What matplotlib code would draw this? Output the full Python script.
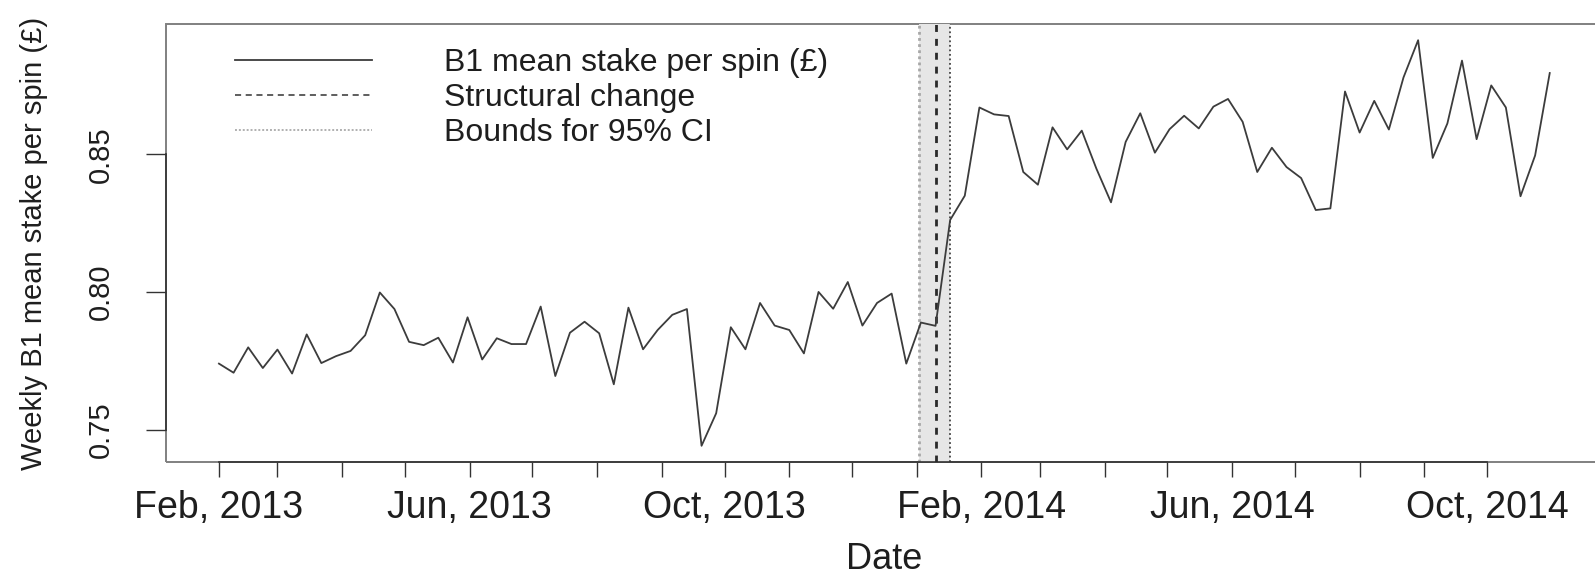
import numpy as np
import pandas as pd
import matplotlib
matplotlib.use('Agg')
import matplotlib.pyplot as plt
import matplotlib.dates as mdates
from matplotlib.patches import Rectangle

plt.rcParams['font.family'] = ['Liberation Sans', 'DejaVu Sans']

# weekly B1 mean stake per spin, starting 1 Feb 2013
start_date = '2013-02-01'
stake = [
    0.7741, 0.7708, 0.7800, 0.7725, 0.7792, 0.7705, 0.7847, 0.7743, 0.7768, 0.7787,
    0.7844, 0.7999, 0.7939, 0.7820, 0.7808, 0.7835, 0.7745, 0.7909, 0.7756, 0.7833,
    0.7812, 0.7812, 0.7948, 0.7696, 0.7853, 0.7893, 0.7851, 0.7666, 0.7944, 0.7793,
    0.7863, 0.7918, 0.7939, 0.7443, 0.7561, 0.7873, 0.7793, 0.7961, 0.7879, 0.7863,
    0.7778, 0.8001, 0.7940, 0.8037, 0.7879, 0.7961, 0.7995, 0.7741, 0.7890, 0.7878,
    0.8262, 0.8350, 0.8670, 0.8645, 0.8639, 0.8436, 0.8390, 0.8598, 0.8518, 0.8586,
    0.8448, 0.8326, 0.8545, 0.8649, 0.8506, 0.8591, 0.8640, 0.8594, 0.8673, 0.8701,
    0.8618, 0.8436, 0.8524, 0.8454, 0.8414, 0.8298, 0.8304, 0.8728, 0.8579, 0.8694,
    0.8590, 0.8779, 0.8914, 0.8487, 0.8612, 0.8840, 0.8555, 0.8750, 0.8670, 0.8348,
    0.8496, 0.8795,
]
dates = pd.date_range(start_date, periods=len(stake), freq='7D')

break_date = pd.Timestamp('2014-01-10')
ci_low = pd.Timestamp('2014-01-02')
ci_high = pd.Timestamp('2014-01-17')

month_ticks = pd.date_range('2013-02-01', '2014-10-01', freq='MS')
label_months = [2, 6, 10]
y_ticks = [0.75, 0.80, 0.85]

line_col = '#3c3c3c'
text_col = '#1e1e1e'

fig = plt.figure(figsize=(15.95, 5.75), dpi=100)
ax = fig.add_axes([0.1039, 0.1965, 0.9011, 0.7618])

# confidence band for the break date
ax.axvspan(ci_low, ci_high, color='#e6e6e6', lw=0, zorder=1)
ax.axvline(ci_low, color='#a8a8a8', ls=(0, (1, 1.2)), lw=2.0, zorder=2)
ax.axvline(ci_high, color='#444444', ls=(0, (1, 1.5)), lw=1.3, zorder=2)
ax.axvline(break_date, color='#2a2a2a', ls=(0, (2.5, 2.5)), lw=2.0, zorder=3)

ax.plot(dates, stake, color=line_col, lw=1.3, zorder=4)

# legend entries
ax.plot([], [], color=line_col, lw=1.3, label='B1 mean stake per spin (£)')
ax.plot([], [], color='#333333', ls=(0, (4, 3)), lw=1.1, label='Structural change')
ax.plot([], [], color='#b0b0b0', ls=(0, (1, 1)), lw=1.4, label='Bounds for 95% CI')
ax.legend(loc='upper left', bbox_to_anchor=(0.048, 0.945),
          frameon=False, fontsize=23, handlelength=4.3, handletextpad=2.25,
          labelspacing=0.16, borderpad=0, borderaxespad=0, labelcolor=text_col)

pad = (dates[-1] - dates[0]) * 0.04
ax.set_xlim(dates[0] - pad, dates[-1] + pad)
span = max(stake) - min(stake)
ax.set_ylim(min(stake) - 0.04 * span, max(stake) + 0.04 * span)

ax.set_xticks(month_ticks)
ax.set_xticklabels([d.strftime('%b, %Y') if d.month in label_months else ''
                    for d in month_ticks])
ax.set_yticks(y_ticks)
ax.set_yticklabels(['%.2f' % v for v in y_ticks], rotation=90, va='center')

ax.tick_params(axis='x', direction='out', length=10.8, width=1.0,
               colors='#333333', labelsize=27, labelcolor=text_col, pad=9)
ax.tick_params(axis='y', direction='out', length=14.4, width=1.0,
               colors='#333333', labelsize=21, labelcolor=text_col, pad=22)

for side in ['top', 'right']:
    ax.spines[side].set_visible(False)
ax.spines['bottom'].set_bounds(mdates.date2num(month_ticks[0]),
                               mdates.date2num(month_ticks[-1]))
ax.spines['left'].set_bounds(y_ticks[0], y_ticks[-1])
for side in ['bottom', 'left']:
    ax.spines[side].set_color('#333333')
    ax.spines[side].set_linewidth(1.2)
ax.add_patch(Rectangle((0, 0), 1, 1, transform=ax.transAxes, fill=False,
                       edgecolor='#808080', lw=1.4, clip_on=False, zorder=0))

ax.set_xlabel('Date', fontsize=26, color=text_col, labelpad=12)
ax.set_ylabel('Weekly B1 mean stake per spin (£)', fontsize=21,
              color=text_col, labelpad=28)

fig.savefig('out.png', dpi=100)
